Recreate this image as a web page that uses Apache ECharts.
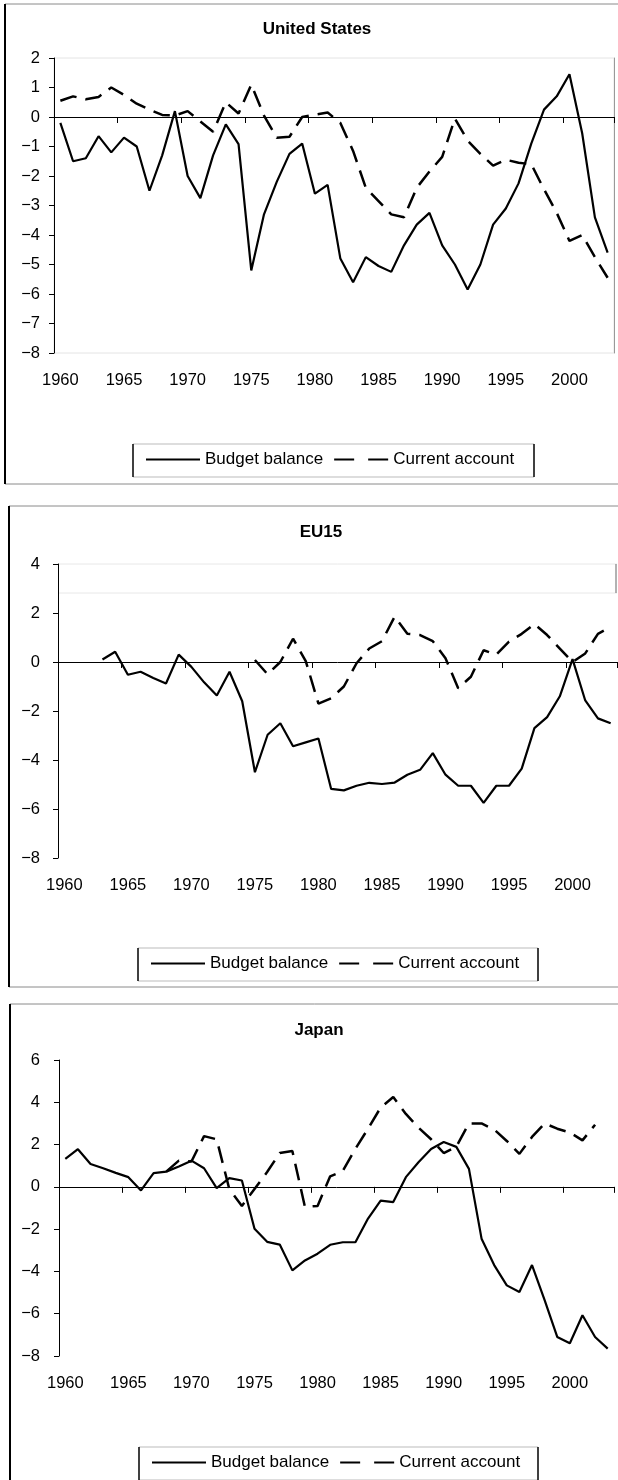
<!DOCTYPE html>
<html><head><meta charset="utf-8">
<script src="https://cdn.jsdelivr.net/npm/echarts/dist/echarts.min.js"></script>
<style>html,body{margin:0;padding:0;background:#fff}#c{width:618px;height:1480px}</style>
</head><body><div id="c"></div>
<script>
// ---------------- DATA ----------------
const years = ['1960','1961','1962','1963','1964','1965','1966','1967','1968','1969',
  '1970','1971','1972','1973','1974','1975','1976','1977','1978','1979',
  '1980','1981','1982','1983','1984','1985','1986','1987','1988','1989',
  '1990','1991','1992','1993','1994','1995','1996','1997','1998','1999',
  '2000','2001','2002','2003'];
const seriesNames = ['Budget balance', 'Current account'];
const panelTitles = ['United States', 'EU15', 'Japan'];

const usBudget = [-0.2,-1.5,-1.4,-0.65,-1.2,-0.7,-1.0,-2.5,-1.3,0.2,
  -2.0,-2.75,-1.3,-0.25,-0.92,-5.2,-3.3,-2.2,-1.25,-0.9,
  -2.6,-2.3,-4.8,-5.6,-4.75,-5.05,-5.25,-4.35,-3.65,-3.25,
  -4.35,-5.0,-5.85,-5.0,-3.65,-3.1,-2.25,-0.9,0.25,0.7,
  1.45,-0.55,-3.4,-4.6];
const usCurrent = [0.55,0.7,0.6,0.68,1.0,0.75,0.45,0.25,0.07,0.05,
  0.2,-0.15,-0.5,0.5,0.12,1.1,0.05,-0.7,-0.67,0.0,
  0.08,0.15,-0.2,-1.15,-2.4,-2.85,-3.3,-3.4,-2.4,-1.85,
  -1.35,-0.05,-0.8,-1.25,-1.65,-1.45,-1.55,-1.6,-2.45,-3.25,
  -4.2,-4.0,-4.75,-5.45];

const euBudget = [null,null,null,0.1,0.42,-0.52,-0.4,-0.65,-0.88,0.3,
  -0.2,-0.83,-1.37,-0.4,-1.6,-4.5,-2.97,-2.5,-3.44,-3.28,
  -3.12,-5.18,-5.24,-5.05,-4.93,-4.98,-4.92,-4.6,-4.4,-3.72,
  -4.6,-5.05,-5.05,-5.75,-5.05,-5.05,-4.35,-2.7,-2.25,-1.4,
  0.12,-1.57,-2.3,-2.5];
const euCurrent = [null,null,null,null,null,null,null,null,null,null,
  null,null,null,null,null,0.08,-0.5,0.0,0.95,0.04,
  -1.7,-1.48,-1.0,-0.05,0.55,0.85,1.85,1.15,1.1,0.85,
  0.15,-1.07,-0.6,0.48,0.3,0.83,1.15,1.55,1.1,0.55,
  0.0,0.35,1.15,1.43];

const jpBudget = [1.32,1.78,1.08,0.88,0.66,0.46,-0.17,0.65,0.72,0.96,
  1.24,0.88,-0.06,0.41,0.3,-1.98,-2.6,-2.73,-3.95,-3.48,
  -3.16,-2.74,-2.62,-2.62,-1.5,-0.65,-0.72,0.46,1.16,1.79,
  2.12,1.89,0.85,-2.45,-3.7,-4.66,-4.97,-3.7,-5.36,-7.1,
  -7.4,-6.07,-7.1,-7.65];
const jpCurrent = [null,null,null,null,null,null,null,null,0.72,1.24,
  1.2,2.4,2.25,-0.1,-0.9,-0.1,0.7,1.6,1.7,-0.95,
  -0.9,0.5,0.75,1.8,2.75,3.75,4.25,3.45,2.8,2.25,
  1.6,1.9,3.0,3.0,2.71,2.17,1.56,2.36,3.0,2.75,
  2.57,2.2,2.94,null];

const yMins = [-8, -8, -8];
const yMaxs = [2, 4, 6];
const yIntervals = [1, 2, 2];

// ---------------- LAYOUT ----------------
const FONT = "'Liberation Sans', Arial, sans-serif";
const layouts = [
  {grid:{left:54, top:58, width:560, height:295}, titleX:317, titleTop:21, legendTop:451, legendLeft:145,
   box:[133,534,444,477], frame:{x:5, top:4, bottom:484}},
  {grid:{left:58, top:564, width:559, height:294}, titleX:321, titleTop:524, legendTop:955, legendLeft:150,
   box:[138,538,948,981], frame:{x:9, top:506, bottom:987}},
  {grid:{left:59, top:1060, width:555, height:296}, titleX:319, titleTop:1022, legendTop:1454, legendLeft:151,
   box:[139,538,1447,1480], frame:{x:10, top:1004, bottom:1490}}
];
const budgets = [usBudget, euBudget, jpBudget];
const currents = [usCurrent, euCurrent, jpCurrent];

const minusFmt = v => (v < 0 ? '\u2212' + Math.abs(v) : String(v));
const DASH = [17, 9];

const option = {
  animation: false,
  backgroundColor: '#fff',
  textStyle: {fontFamily: FONT, color: '#000'},
  title: [], legend: [], grid: [], xAxis: [], yAxis: [], series: [], graphic: []
};

layouts.forEach((L, p) => {
  option.title.push({
    text: panelTitles[p], left: L.titleX, top: L.titleTop, textAlign: 'center', padding: 0,
    textStyle: {fontFamily: FONT, fontSize: 17, fontWeight: 'bold', color: '#000'}
  });
  option.legend.push({
    data: [{name: seriesNames[0]}, {name: seriesNames[1], lineStyle: {type: [20, 14]}}],
    left: L.legendLeft, top: L.legendTop, padding: 0,
    itemWidth: 54, itemHeight: 14, itemGap: 10,
    itemStyle: {opacity: 0, borderWidth: 0},
    lineStyle: {opacity: 1},
    textStyle: {fontFamily: FONT, fontSize: 17, color: '#000'},
    selectedMode: false
  });
  option.grid.push(Object.assign({
    show: p === 0, borderColor: '#e4e4e4', borderWidth: 1, backgroundColor: 'transparent',
    containLabel: false, outerBoundsMode: 'none'
  }, L.grid));
  // label-only x axis at bottom
  option.xAxis.push({
    type: 'category', gridIndex: p, data: years, boundaryGap: true, position: 'bottom',
    axisLine: {show: false, onZero: false}, axisTick: {show: false}, splitLine: {show: false},
    axisLabel: {interval: 4, margin: 19, fontSize: 16.5, fontFamily: FONT, color: '#000'}
  });
  // zero line with ticks
  option.xAxis.push({
    type: 'category', gridIndex: p, data: years, boundaryGap: true, position: 'bottom',
    axisLine: {show: true, onZero: true, onZeroAxisIndex: p, lineStyle: {color: '#000', width: 1}},
    axisTick: {show: true, interval: 4, length: 6, lineStyle: {color: '#000', width: 1}},
    axisLabel: {show: false}, splitLine: {show: false}
  });
  option.yAxis.push({
    type: 'value', gridIndex: p, min: yMins[p], max: yMaxs[p], interval: yIntervals[p],
    axisLine: {show: true, onZero: false, lineStyle: {color: '#000', width: 1}},
    axisTick: {show: true, length: 5, lineStyle: {color: '#000'}},
    splitLine: {show: false},
    axisLabel: {margin: L.grid.left - 40, fontSize: 16.5, fontFamily: FONT, color: '#000', formatter: minusFmt}
  });
  option.series.push({
    type: 'line', name: seriesNames[0], xAxisIndex: 2*p+1, yAxisIndex: p,
    data: budgets[p], symbol: 'none', showSymbol: false, connectNulls: false,
    lineStyle: {color: '#000', width: 2.2, type: 'solid'}, itemStyle: {color: '#000'}
  });
  option.series.push({
    type: 'line', name: seriesNames[1], xAxisIndex: 2*p+1, yAxisIndex: p,
    data: currents[p], symbol: 'none', showSymbol: false, connectNulls: false,
    lineStyle: {color: '#000', width: 2.5, type: DASH}, itemStyle: {color: '#000'}
  });
  // frame
  const F = L.frame;
  option.graphic.push(
    {type:'line', silent:true, shape:{x1:F.x, y1:F.top, x2:640, y2:F.top}, style:{stroke:'#8a8a8a', lineWidth:1}},
    {type:'line', silent:true, shape:{x1:F.x, y1:F.bottom, x2:640, y2:F.bottom}, style:{stroke:'#8a8a8a', lineWidth:1}},
    {type:'line', silent:true, shape:{x1:F.x, y1:F.top, x2:F.x, y2:F.bottom}, style:{stroke:'#000', lineWidth:2}}
  );
  // legend box
  const B = L.box;
  option.graphic.push(
    {type:'line', silent:true, shape:{x1:B[0], y1:B[2], x2:B[1], y2:B[2]}, style:{stroke:'#bbb', lineWidth:1}},
    {type:'line', silent:true, shape:{x1:B[0], y1:B[3], x2:B[1], y2:B[3]}, style:{stroke:'#bbb', lineWidth:1}},
    {type:'line', silent:true, shape:{x1:B[0], y1:B[2], x2:B[0], y2:B[3]}, style:{stroke:'#000', lineWidth:1.5}},
    {type:'line', silent:true, shape:{x1:B[1], y1:B[2], x2:B[1], y2:B[3]}, style:{stroke:'#000', lineWidth:1.5}}
  );
});

// US plot right border
option.yAxis.push({
  type: 'value', gridIndex: 0, position: 'right', min: yMins[0], max: yMaxs[0], interval: yIntervals[0],
  axisLine: {show: true, onZero: false, lineStyle: {color: '#999', width: 1}},
  axisTick: {show: false}, axisLabel: {show: false}, splitLine: {show: false}
});
// EU15 stray plot-area box near the top
const eg = layouts[1].grid;
option.graphic.push(
  {type:'line', silent:true, shape:{x1:eg.left, y1:eg.top, x2:eg.left+eg.width, y2:eg.top}, style:{stroke:'#e8e8e8', lineWidth:1}},
  {type:'line', silent:true, shape:{x1:eg.left, y1:eg.top+29, x2:eg.left+eg.width, y2:eg.top+29}, style:{stroke:'#e8e8e8', lineWidth:1}},
  {type:'line', silent:true, shape:{x1:eg.left+eg.width-1, y1:eg.top, x2:eg.left+eg.width-1, y2:eg.top+29}, style:{stroke:'#999', lineWidth:1.5}}
);

const chart = echarts.init(document.getElementById('c'), null, {renderer: 'canvas'});
chart.setOption(option);
</script>
</body></html>
